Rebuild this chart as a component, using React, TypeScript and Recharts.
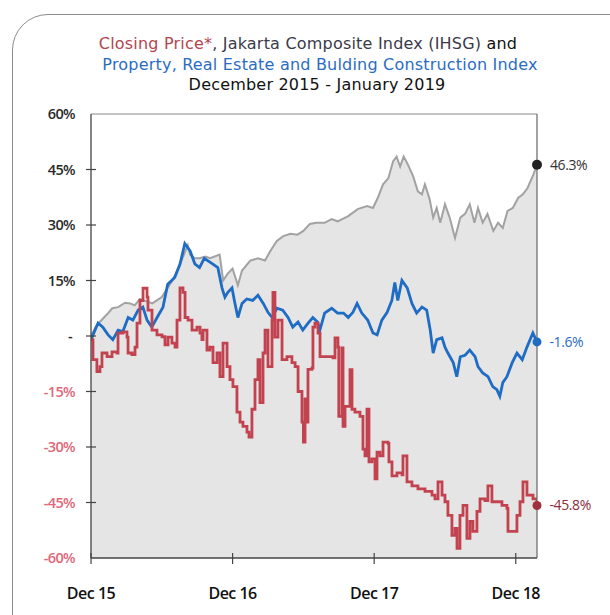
import { ComposedChart, Area, Line, XAxis, YAxis, ReferenceLine, ReferenceDot } from "recharts";

// [months since Dec 15, % change]
const ihsg: [number, number][] = [
  [0, 0], [0.4, 2.5], [0.8, 4], [1.4, 6], [1.8, 7.5], [2.3, 7.8], [2.9, 9], [3.3, 8.8],
  [3.7, 8.3], [4.15, 10], [4.6, 9.5], [5.2, 8.8], [6.0, 10.5], [6.5, 13], [6.9, 15],
  [7.5, 19], [8.0, 23], [8.2, 24.5], [8.4, 22], [8.8, 21], [9.2, 21], [9.7, 21.5],
  [10.1, 21], [10.9, 22], [11.2, 15], [11.6, 16.9], [12.0, 18.2], [12.45, 13.7],
  [12.8, 17.7], [13.5, 20.4], [14.15, 21], [14.75, 20.4], [15.2, 23], [15.75, 25.7],
  [16.3, 27], [16.9, 27.6], [17.5, 27.4], [18.0, 28.4], [18.55, 30.3], [19.1, 30.6],
  [19.8, 30.6], [20.4, 31.6], [20.9, 31], [21.8, 32.4], [22.6, 34.3], [23.4, 35.1],
  [23.9, 34.6], [24.3, 37.3], [24.75, 41], [25.2, 42.6], [25.6, 47.2], [25.9, 48.5],
  [26.2, 45.8], [26.5, 48.5], [26.85, 46.4], [27.3, 43.2], [27.7, 39.1], [28.05, 38.3],
  [28.3, 41], [28.7, 37], [29.0, 32], [29.3, 34.6], [29.6, 30.6], [30.0, 35.6],
  [30.4, 32], [30.85, 26.5], [31.3, 32], [31.7, 33], [32.1, 35.6], [32.5, 30.6],
  [32.8, 34.6], [33.2, 30.6], [33.6, 33], [34.1, 28.4], [34.5, 30.6], [34.9, 29.2],
  [35.3, 33.8], [35.75, 34.6], [36.2, 37.3], [36.6, 38.3], [37.0, 40], [37.5, 43.7],
  [37.8, 46.3],
];

const property: [number, number][] = [
  [0, -1], [0.6, 3.5], [1.0, 2.4], [1.45, 0.3], [1.85, -1], [2.3, 1.6], [2.7, 1.2],
  [3.15, 5], [3.55, 4.3], [4.0, 7], [4.4, 7.8], [4.75, 4.3], [5.15, 2.4], [5.6, 5],
  [6.1, 7.8], [6.5, 14], [7.1, 15.8], [7.55, 19.5], [7.95, 25], [8.4, 23], [8.8, 19.5],
  [9.2, 18.5], [9.6, 21], [10.3, 19.5], [10.75, 18.5], [11.1, 13], [11.35, 10.5],
  [11.6, 11.8], [11.95, 13], [12.2, 8.8], [12.45, 5], [12.8, 8.8], [13.2, 10],
  [13.7, 9.6], [14.15, 11], [14.6, 8.8], [15.0, 6.4], [15.35, 5], [15.75, 7.5],
  [16.25, 7], [16.7, 5], [17.1, 2.4], [17.55, 3.8], [17.95, 1.6], [18.4, 3.5],
  [18.8, 5], [19.2, 3.8], [19.4, 1.6], [19.8, 6.2], [20.4, 7.5], [20.9, 6.2],
  [21.4, 6.2], [21.8, 5], [22.2, 6.4], [22.55, 8.8], [22.95, 6.2], [23.45, 4.3],
  [23.9, 0.8], [24.25, 0.3], [24.65, 4.3], [25.1, 6.4], [25.5, 9.6], [25.75, 14.5],
  [26.0, 9.6], [26.35, 15], [26.8, 13], [27.2, 8.8], [27.6, 6.2], [28.05, 7.8],
  [28.45, 7], [28.75, 1.6], [29.0, -4.6], [29.3, -1], [29.75, -0.5], [30.0, -3],
  [30.25, -4.6], [30.7, -7.2], [31.0, -11], [31.3, -5.6], [31.7, -5.2], [32.1, -3.8],
  [32.55, -5.6], [32.8, -8.3], [33.2, -10], [33.65, -11], [34.05, -13.7], [34.4, -14.5],
  [34.65, -16.3], [34.9, -12.6], [35.25, -11], [35.7, -7.2], [36.1, -4.6], [36.55, -6.4],
  [36.95, -3], [37.45, 0.8], [37.8, -1.6],
];

const closing: [number, number][] = [
  [0, -1], [0.17, -6.4], [0.5, -9.6], [0.76, -8.3], [0.93, -4.6], [1.36, -5.6],
  [1.78, -4.3], [2.2, -4.6], [2.29, 0.8], [2.71, 1.1], [3.05, -0.3], [3.14, -4.6],
  [3.47, -5], [3.73, -3], [3.9, 3.5], [4.15, 9.6], [4.41, 12.9], [4.75, 10.5],
  [4.83, 7], [5.17, 1.6], [5.59, 0.3], [6.02, -0.2], [6.27, -2.4], [6.53, -0.3],
  [6.86, -1.9], [7.12, -3], [7.29, 4.3], [7.54, 13], [7.8, 11.8], [7.97, 5],
  [8.22, 4.3], [8.56, 1.6], [8.98, 2.4], [9.24, 0.8], [9.4, -1], [9.5, 1.6],
  [9.83, -3.8], [10.08, -3], [10.34, -7.2], [10.68, -4.6], [10.93, -11], [11.19, -1.9],
  [11.53, -8.3], [11.78, -11.8], [12.03, -13.7], [12.37, -20.6], [12.63, -23.3],
  [12.88, -24.4], [13.22, -26], [13.39, -27.3], [13.64, -19.8], [13.9, -11.8],
  [14.15, -6.4], [14.32, -18], [14.58, -4.6], [14.75, 1.6], [15.0, -8.3], [15.34, 4.3],
  [15.42, 11.8], [15.59, -0.3], [15.85, 4.3], [16.19, -6.4], [16.61, -5.6],
  [17.03, -7.2], [17.3, -8.3], [17.55, -15], [17.88, -23.3], [18.0, -28.7], [18.14, -17],
  [18.23, -23.3], [18.39, -9], [18.73, -8.6], [18.81, 2.4], [18.98, 3.5], [19.24, 0.8],
  [19.41, -5.6], [20.51, -5.9], [20.68, -0.5], [20.93, -3], [21.0, -21.7],
  [21.27, -3.2], [21.36, -24.4], [21.53, -19], [21.95, -9.1], [22.12, -19.8],
  [22.37, -20.6], [22.8, -21.7], [23.05, -30.6], [23.22, -32.4], [23.39, -19.8],
  [23.56, -34], [23.81, -33.2], [24.07, -38.6], [24.24, -31.4], [24.49, -32.4],
  [24.75, -28.7], [25.17, -29], [25.25, -34], [25.51, -37.8], [25.93, -37],
  [26.36, -37.5], [26.44, -32.4], [26.78, -39.4], [27.2, -40.5], [27.71, -41.3],
  [28.31, -42], [28.9, -43], [29.15, -44], [29.41, -39.4], [29.75, -43], [30.0, -44.8],
  [30.25, -48.5], [30.59, -53.9], [30.85, -52], [31.02, -57.4], [31.27, -48.5],
  [31.53, -45.8], [31.86, -54.7], [32.12, -50.1], [32.37, -52.8], [32.71, -47.4],
  [32.97, -44], [33.39, -44.5], [33.64, -40.5], [33.98, -44.8], [34.41, -44.8],
  [34.83, -45.8], [35.25, -46.6], [35.34, -52.8], [35.76, -52.8], [36.1, -48.5],
  [36.36, -44.8], [36.61, -39.4], [36.95, -43], [37.46, -44], [37.8, -45.8],
];

const yTicks = [60, 45, 30, 15, 0, -15, -30, -45, -60];
const xTicks = [0, 12, 24, 36];
const xLabels = ["Dec 15", "Dec 16", "Dec 17", "Dec 18"];

const toRows = (s: [number, number][]) => s.map(([t, v]) => ({ t, v }));
const last = (s: [number, number][]) => s[s.length - 1];

const FONT = "'Open Sans', 'Noto Sans', sans-serif";
const TITLE_FONT = "'DejaVu Sans', 'Open Sans', sans-serif";

const LeftTick = ({ x, y, payload }: any) => {
  const v = payload.value;
  return (
    <g>
      {v > -60 && v < 60 && (
        <line x1={x - 5} x2={x + 5} y1={y} y2={y} stroke="#444" strokeWidth={1.2} />
      )}
      <text
        x={v === 0 ? x - 19 : x - 16}
        y={y}
        dy={5}
        textAnchor="end"
        fontSize={14.5}
        fontWeight={600}
        fontFamily={FONT}
        letterSpacing={-0.6}
        fill={v < 0 ? "#e0677a" : "#2a2a2a"}
      >
        {v === 0 ? "-" : `${v}%`}
      </text>
    </g>
  );
};

const RightTick = ({ x, y, payload }: any) => {
  const v = payload.value;
  if (v <= -60 || v >= 60) return <g />;
  return <line x1={x - 6} x2={x + 1} y1={y} y2={y} stroke="#555" strokeWidth={1.2} />;
};

const BottomTick = ({ x, y, payload }: any) => (
  <g>
    <line x1={x} x2={x} y1={y - 5} y2={y + 6} stroke="#444" strokeWidth={1.2} />
    <text x={x} y={y + 41} textAnchor="middle" fontSize={16} fontWeight={600} fontFamily={FONT} letterSpacing={-0.5} fill="#111">
      {xLabels[xTicks.indexOf(payload.value)]}
    </text>
  </g>
);

const endLabel = (value: number, fill: string) => ({
  value: `${value}%`,
  position: "right" as const,
  offset: 8,
  fill,
  fontSize: 14,
  fontFamily: FONT,
  letterSpacing: -0.4,
});

export default function App() {
  return (
    <div style={{ position: "absolute", left: 0, top: 0, width: 610, height: 615, background: "#fff", overflow: "hidden" }}>
      <div
        style={{
          position: "absolute",
          left: 12,
          top: 14,
          width: 640,
          height: 650,
          border: "1.5px solid #8c8c8c",
          borderRadius: 36,
        }}
      />
      <div
        style={{
          position: "absolute",
          left: 0,
          top: 34,
          width: 640,
          textAlign: "center",
          fontFamily: TITLE_FONT,
          fontSize: 16,
          lineHeight: "20.5px",
          letterSpacing: 0.2,
        }}
      >
        <div style={{ color: "#111", marginLeft: -24 }}>
          <span style={{ color: "#b4454f" }}>Closing Price*</span>
          <span style={{ color: "#3a3a48" }}>, Jakarta Composite Index (IHSG)</span> and
        </div>
        <div style={{ color: "#2b6cc2" }}>Property, Real Estate and Bulding Construction Index</div>
        <div style={{ color: "#111", marginLeft: -6 }}>December 2015 - January 2019</div>
      </div>
      <div style={{ position: "absolute", left: 0, top: 0 }}>
        <ComposedChart width={610} height={615} margin={{ top: 114, right: 63, bottom: 7, left: 0 }}>
          <XAxis
            dataKey="t"
            type="number"
            domain={[0, 37.8]}
            allowDataOverflow
            ticks={xTicks}
            tick={<BottomTick />}
            tickSize={0}
            tickMargin={0}
            tickLine={false}
            height={50}
            axisLine={{ stroke: "#444", strokeWidth: 1.3 }}
          />
          <YAxis
            yAxisId="l"
            type="number"
            domain={[-60, 60]}
            ticks={yTicks}
            interval={0}
            tick={<LeftTick />}
            tickSize={0}
            tickMargin={0}
            tickLine={false}
            width={91}
            axisLine={{ stroke: "#444", strokeWidth: 1.3 }}
          />
          <YAxis
            yAxisId="r"
            orientation="right"
            type="number"
            domain={[-60, 60]}
            ticks={yTicks}
            interval={0}
            tick={<RightTick />}
            tickSize={0}
            tickMargin={0}
            tickLine={false}
            width={10}
            axisLine={{ stroke: "#666", strokeWidth: 1.2 }}
          />
          <ReferenceLine yAxisId="l" y={60} stroke="#8a8a8a" strokeWidth={1.2} />
          <Area
            yAxisId="l"
            data={toRows(ihsg)}
            dataKey="v"
            type="linear"
            baseValue={-60}
            stroke="#a2a2a2"
            strokeWidth={2}
            fill="#e5e5e5"
            fillOpacity={1}
            dot={false}
            activeDot={false}
            isAnimationActive={false}
          />
          <Line
            yAxisId="l"
            data={toRows(property)}
            dataKey="v"
            type="linear"
            stroke="#1e6cc4"
            strokeWidth={2.8}
            dot={false}
            activeDot={false}
            isAnimationActive={false}
          />
          <Line
            yAxisId="l"
            data={toRows(closing)}
            dataKey="v"
            type="stepAfter"
            stroke="#c2434f"
            strokeWidth={2.8}
            dot={false}
            activeDot={false}
            isAnimationActive={false}
          />
          <ReferenceDot
            yAxisId="l"
            x={last(ihsg)[0]}
            y={last(ihsg)[1]}
            r={5}
            fill="#222"
            stroke="none"
            ifOverflow="visible"
            label={endLabel(last(ihsg)[1], "#333")}
          />
          <ReferenceDot
            yAxisId="l"
            x={last(property)[0]}
            y={last(property)[1]}
            r={4.5}
            fill="#1e6cc4"
            stroke="none"
            ifOverflow="visible"
            label={endLabel(last(property)[1], "#2a6cc0")}
          />
          <ReferenceDot
            yAxisId="l"
            x={last(closing)[0]}
            y={last(closing)[1]}
            r={4.5}
            fill="#a0323f"
            stroke="none"
            ifOverflow="visible"
            label={endLabel(last(closing)[1], "#8c2c3c")}
          />
        </ComposedChart>
      </div>
    </div>
  );
}
